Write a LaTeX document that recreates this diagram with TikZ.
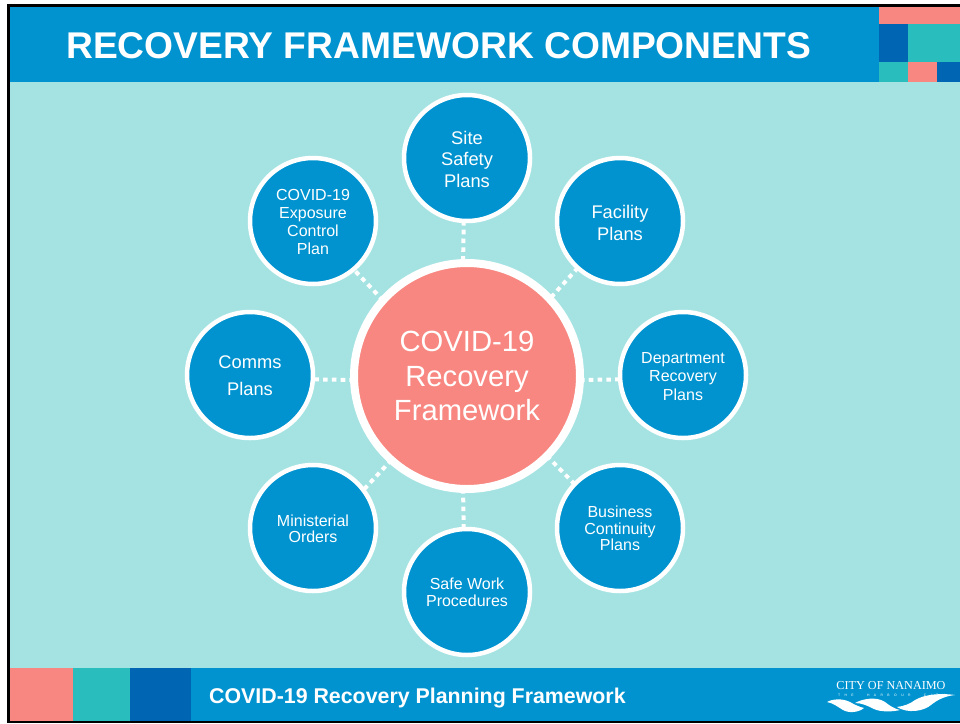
\documentclass[tikz,border=0pt]{standalone}
\usepackage{fontspec}
\setmainfont{Liberation Sans}
\newfontfamily\logofont{Liberation Serif}
\definecolor{cblue}{HTML}{0093D0}
\definecolor{cpink}{HTML}{F88781}
\definecolor{cteal}{HTML}{2ABDBD}
\definecolor{cdark}{HTML}{0066B3}
\definecolor{clight}{HTML}{A5E3E3}
\tikzset{
  sat/.style={circle,draw=white,line width=4.5pt,fill=cblue,text=white,minimum size=126pt,inner sep=0pt,outer sep=0pt,align=center},
  hub/.style={circle,draw=white,line width=8pt,fill=cpink,text=white,minimum size=226pt,inner sep=0pt,outer sep=0pt,align=center},
  link/.style={draw=white,line width=4pt,dash pattern=on 4.6pt off 4.2pt}
}
\newcommand{\fsz}[2]{\fontsize{#1pt}{#2pt}\selectfont}
\newcommand{\dn}[1][2pt]{\rule{0pt}{\dimexpr0.73em+#1\relax}}
\begin{document}
\begin{tikzpicture}[x=1pt,y=-1pt]
\useasboundingbox (0,0) rectangle (960,723);
\fill[white] (0,0) rectangle (960,723);
\fill[black] (7,4) rectangle (960,723);
\fill[clight] (9.5,82) rectangle (960,668);
\fill[cblue] (9.5,7) rectangle (960,82);
% header blocks
\fill[cpink] (879,7) rectangle (960,24);
\fill[cdark] (879,24) rectangle (908,62);
\fill[cteal] (908,24) rectangle (960,62);
\fill[cteal] (879,62) rectangle (908,82);
\fill[cpink] (908,62) rectangle (937,82);
\fill[cdark] (937,62) rectangle (960,82);
% footer
\fill[cpink] (9.5,668) rectangle (73,720.5);
\fill[cteal] (73,668) rectangle (130,720.5);
\fill[cdark] (130,668) rectangle (191,720.5);
\fill[cblue] (191,668) rectangle (960,720.5);
\node[anchor=base west,text=white,inner sep=0pt,font=\bfseries\fsz{37.2}{40}] (title) at (66,58) {RECOVERY FRAMEWORK COMPONENTS};
\node[anchor=base west,text=white,inner sep=0pt,font=\bfseries\fsz{21.35}{24}] (foot) at (209,703) {COVID-19 Recovery Planning Framework};
% circles
\node[hub,font=\fsz{29.2}{34.5}] (main) at (467,376) {COVID-19\\Recovery\\Framework};
\node[sat,font=\fsz{18.3}{21.5}] (site) at (467,158) {\dn{}Site\\Safety\\Plans};
\node[sat,font=\fsz{18.3}{22}] (fac) at (620,221) {\dn[4pt]{}Facility\\Plans};
\node[sat,font=\fsz{16}{18.5}] (dept) at (683,375) {\dn{}Department\\Recovery\\Plans};
\node[sat,font=\fsz{16}{16.5}] (biz) at (620,528) {\dn[0.5pt]{}Business\\Continuity\\Plans};
\node[sat,font=\fsz{16}{17}] (safe) at (467,592) {\dn[0.5pt]{}Safe Work\\Procedures};
\node[sat,font=\fsz{16}{16}] (min) at (313,528) {\dn{}Ministerial\\Orders};
\node[sat,font=\fsz{18.3}{27}] (comms) at (250,375) {\dn[0.5pt]{}Comms\\Plans};
\node[sat,font=\fsz{16}{18}] (exp) at (313,221) {\dn{}COVID-19\\Exposure\\Control\\Plan};
% connectors
\draw[link] (site.-93.5) -- (main.92);
\draw[link] (fac.-132) -- (main.43.6);
\draw[link] (main.-2) -- (dept.184.5);
\draw[link] (main.-45) -- (biz.136);
\draw[link] (main.-92) -- (safe.93.5);
\draw[link] (main.228) -- (min.37);
\draw[link] (main.182) -- (comms.-4.5);
\draw[link] (main.138) -- (exp.-50.5);
% logo
\node[anchor=base,text=white,inner sep=0pt,font=\logofont\fsz{12.2}{13}] (logoa) at (891,689) {CITY OF NANAIMO};
\node[anchor=base,text=white,inner sep=0pt,font=\fsz{3.4}{4}] (logob) at (891.5,696) {\hbox to 107pt{T\hfil H\hfil E\hfil\hfil\hfil H\hfil A\hfil R\hfil B\hfil O\hfil U\hfil R\hfil\hfil\hfil C\hfil I\hfil T\hfil Y}};
\fill[white] (827,702) .. controls (832,699) and (842,698) .. (850,702) .. controls (855,705) and (860,707) .. (864,708) .. controls (858,713) and (848,713) .. (843,710) .. controls (838,707) and (833,703) .. (827,702) -- cycle;
\fill[white] (855,703) .. controls (862,699) and (876,696) .. (885,702) .. controls (890,706) and (895,709) .. (900,710) .. controls (892,712) and (880,712) .. (874,709) .. controls (868,706) and (862,703) .. (855,703) -- cycle;
\fill[white] (897,707) .. controls (904,706) and (910,704) .. (915,700) .. controls (925,694) and (942,693) .. (955,695) .. controls (945,696) and (937,700) .. (931,705) .. controls (924,711) and (908,714) .. (897,707) -- cycle;
\end{tikzpicture}
\end{document}
